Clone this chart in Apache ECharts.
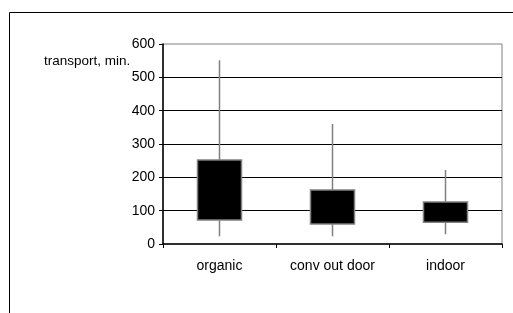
<!DOCTYPE html>
<html><head><meta charset="utf-8">
<script src="https://cdn.jsdelivr.net/npm/echarts@6/dist/echarts.min.js"></script>
<style>html,body{margin:0;padding:0;background:#fff}#c{width:513px;height:313px}</style>
</head><body><div id="c"></div>
<script>
const categories = ['organic', 'conv out door', 'indoor'];
const q1Values = [72, 60, 65];
const q3Values = [252, 162, 126];
const minValues = [23, 23, 29];
const maxValues = [551, 360, 222];
const yTicks = [0, 100, 200, 300, 400, 500, 600];

const data = categories.map((c, i) => [q1Values[i], q3Values[i], minValues[i], maxValues[i]]);
const font = 'Liberation Sans, Arial, sans-serif';
const chart = echarts.init(document.getElementById('c'), null, {renderer: 'canvas'});
chart.setOption({
  animation: false,
  backgroundColor: '#fff',
  graphic: [
    {type: 'rect', left: 7, top: 10, shape: {width: 530, height: 330}, style: {fill: 'none', stroke: '#000', lineWidth: 1}, silent: true},
    {type: 'text', left: 44, top: 54, style: {text: 'transport, min.', font: '13.5px ' + font, fill: '#000'}}
  ],
  grid: {left: 163, right: 11, top: 44, bottom: 69, show: true, borderColor: '#808080', borderWidth: 1, backgroundColor: 'transparent'},
  xAxis: {
    type: 'category', data: categories, boundaryGap: true,
    axisLine: {lineStyle: {color: '#000', width: 1.5}},
    axisTick: {show: true, length: 4, lineStyle: {color: '#000'}},
    axisLabel: {color: '#000', fontFamily: font, fontSize: 14, margin: 15},
    splitLine: {show: false}
  },
  yAxis: {
    type: 'value', min: yTicks[0], max: yTicks[yTicks.length - 1], interval: 100,
    axisLine: {show: true, lineStyle: {color: '#000', width: 1.5}},
    axisTick: {show: true, length: 4, lineStyle: {color: '#000'}},
    axisLabel: {color: '#000', fontFamily: font, fontSize: 14, margin: 8},
    splitLine: {show: true, showMinLine: false, showMaxLine: false, lineStyle: {color: '#000', width: 1}}
  },
  series: [{
    type: 'candlestick',
    data: data,
    barWidth: '39%',
    itemStyle: {color: '#000', color0: '#000', borderColor: '#808080', borderColor0: '#808080', borderWidth: 1.5}
  }]
});
</script></body></html>
